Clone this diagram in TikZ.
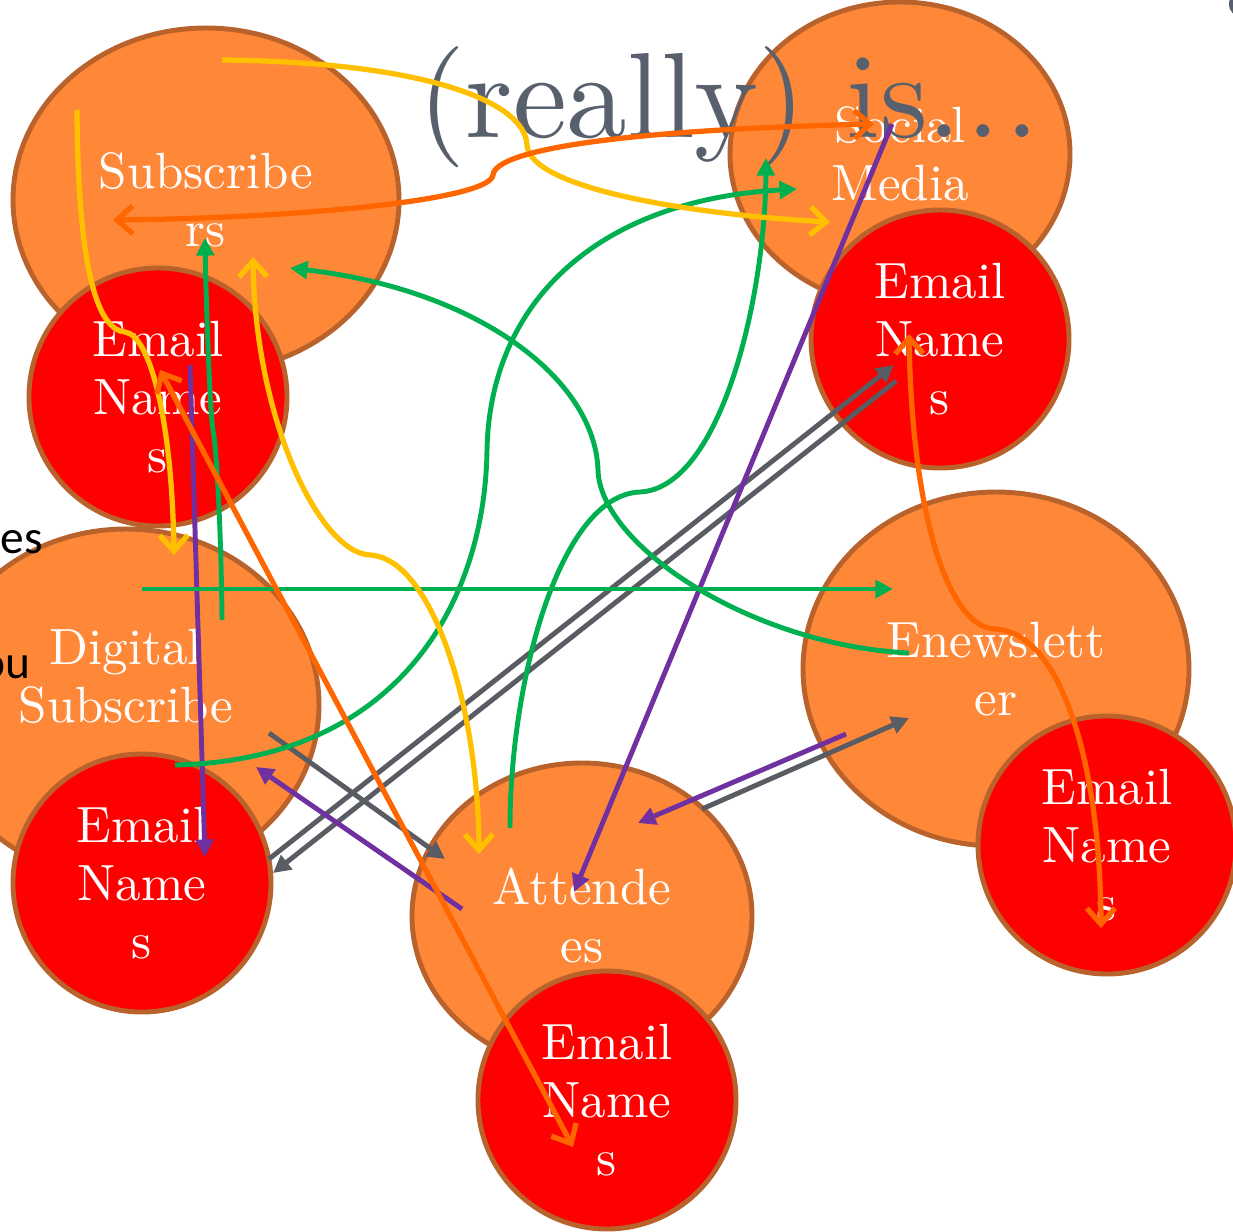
\documentclass[tikz,border=0pt]{standalone}
\usepackage{fontspec}
\usetikzlibrary{arrows.meta, shapes.geometric}
\setmainfont{lmroman10-regular.otf}
\newfontfamily\calibri{Carlito}
\definecolor{peach}{HTML}{FF8838}
\definecolor{rim}{HTML}{B9622C}
\definecolor{mailred}{HTML}{FF0000}
\definecolor{slate}{HTML}{58606E}
\definecolor{ylink}{HTML}{FFC000}
\definecolor{olink}{HTML}{FF6600}
\definecolor{glink}{HTML}{00B050}
\definecolor{plink}{HTML}{7030A0}
\definecolor{dlink}{HTML}{595C63}

\begin{document}
\begin{tikzpicture}[x=0.02cm, y=-0.02cm,
    blob/.style={ellipse, draw=rim, line width=2.8pt, inner sep=0pt, align=center, text=white, font=\fontsize{29}{33}\selectfont},
    barb/.style={line width=3pt, -{Straight Barb[length=9pt, width=16pt]}},
    barbs/.style={line width=3pt, {Straight Barb[length=9pt, width=16pt]}-{Straight Barb[length=9pt, width=16pt]}},
    tri/.style={line width=2.8pt, -{Triangle[length=10pt, width=10pt]}},
    scrap/.style={anchor=base east, inner sep=0pt, font=\calibri\fontsize{27}{30}\selectfont}]
  \useasboundingbox (0,0) rectangle (1233,1231);
  \foreach \n/\x/\y/\w/\h/\lab in {subs/206/200/386/344/{Subscribe\\rs}, social/900/154/340/304/{Social\\Media},
      digital/126/705/386/352/{Digital\\Subscribe\\rs}, enews/996/669/386/354/{Enewslett\\er}, attend/582/916/340/306/{Attende\\es}}
    \node[blob, fill=peach, minimum width=\w*0.02cm, minimum height=\h*0.02cm] (\n) at (\x,\y) {\lab};
  \foreach \n/\x/\y in {subsmail/158/397, socialmail/940/339, digitalmail/142/883, enewsmail/1107/845, attendmail/607/1100}
    \node[blob, fill=mailred, minimum size=258*0.02cm] (\n) at (\x,\y) {Email\\Name\\s};
  \node[anchor=base west, inner sep=0pt, text=slate, font=\fontsize{69}{72}\selectfont] (title) at (418,137) {(really) is.\kern3pt.\kern3pt.};
  \node[scrap] (es) at (43,553) {es};
  \node[scrap] (ou) at (31,678) {ou};
  \fill[slate] (1243,4) circle (14);

  \draw[tri, dlink] ([shift={(143,28)}]digital.center) -- ([shift={(-137,-57)}]attend.center);
  \draw[tri, dlink] ([shift={(120,-107)}]attend.center) -- ([shift={(-87,49)}]enews.center);
  \draw[tri, dlink] ([shift={(127,-24)}]digitalmail.center) -- ([shift={(-46,26)}]socialmail.center);
  \draw[tri, dlink] ([shift={(-44,42)}]socialmail.center) -- ([shift={(131,-10)}]digitalmail.center);
  \draw[tri, plink] ([shift={(32,-32)}]subsmail.center) -- ([shift={(63,-26)}]digitalmail.center);
  \draw[tri, plink] ([shift={(-120,-7)}]attend.center) -- ([shift={(130,62)}]digital.center);
  \draw[tri, plink] ([shift={(-8,-30)}]social.center) -- ([shift={(-8,-24)}]attend.center);
  \draw[tri, plink] ([shift={(-150,65)}]enews.center) -- ([shift={(56,-93)}]attend.center);
  \draw[tri, glink] ([shift={(16,-116)}]digital.center) -- ([shift={(-103,-80)}]enews.center);
  \draw[tri, glink] ([shift={(96,-85)}]digital.center) .. controls (221,520) and (216,445) .. (213,430)
    .. controls (210,415) and (206,300) .. ([shift={(-1,38)}]subs.center);
  \draw[tri, glink] ([shift={(49,60)}]digital.center) .. controls (400,760) and (485,600) .. (487,450)
    .. controls (490,300) and (600,200) .. ([shift={(-103,35)}]social.center);
  \draw[tri, glink] ([shift={(-72,-88)}]attend.center) .. controls (510,680) and (560,495) .. (640,492)
    .. controls (720,488) and (765,300) .. ([shift={(-134,4)}]social.center);
  \draw[tri, glink] ([shift={(-87,-16)}]enews.center) .. controls (750,645) and (600,545) .. (598,470)
    .. controls (595,380) and (480,290) .. ([shift={(84,68)}]subs.center);
  \draw[barb, ylink] ([shift={(16,-140)}]subs.center) .. controls (420,62) and (525,100) .. (527,145)
    .. controls (530,190) and (700,215) .. ([shift={(-70,68)}]social.center);
  \draw[barb, ylink] ([shift={(-129,-90)}]subs.center) .. controls (78,280) and (100,330) .. (125,332)
    .. controls (150,335) and (172,420) .. ([shift={(48,-150)}]digital.center);
  \draw[barbs, ylink] ([shift={(47,57)}]subs.center) .. controls (255,420) and (320,553) .. (370,555)
    .. controls (430,558) and (478,700) .. ([shift={(-103,-62)}]attend.center);
  \draw[barbs, olink] ([shift={(-26,-30)}]social.center) .. controls (620,130) and (495,150) .. (493,175)
    .. controls (490,200) and (300,218) .. ([shift={(-93,20)}]subs.center);
  \draw[barbs, olink] ([shift={(2,-27)}]subsmail.center) -- ([shift={(-34,47)}]attendmail.center);
  \draw[barbs, olink] ([shift={(-31,-5)}]socialmail.center) .. controls (912,520) and (950,628) .. (995,629)
    .. controls (1060,632) and (1100,760) .. ([shift={(-6,83)}]enewsmail.center);
\end{tikzpicture}
\end{document}
